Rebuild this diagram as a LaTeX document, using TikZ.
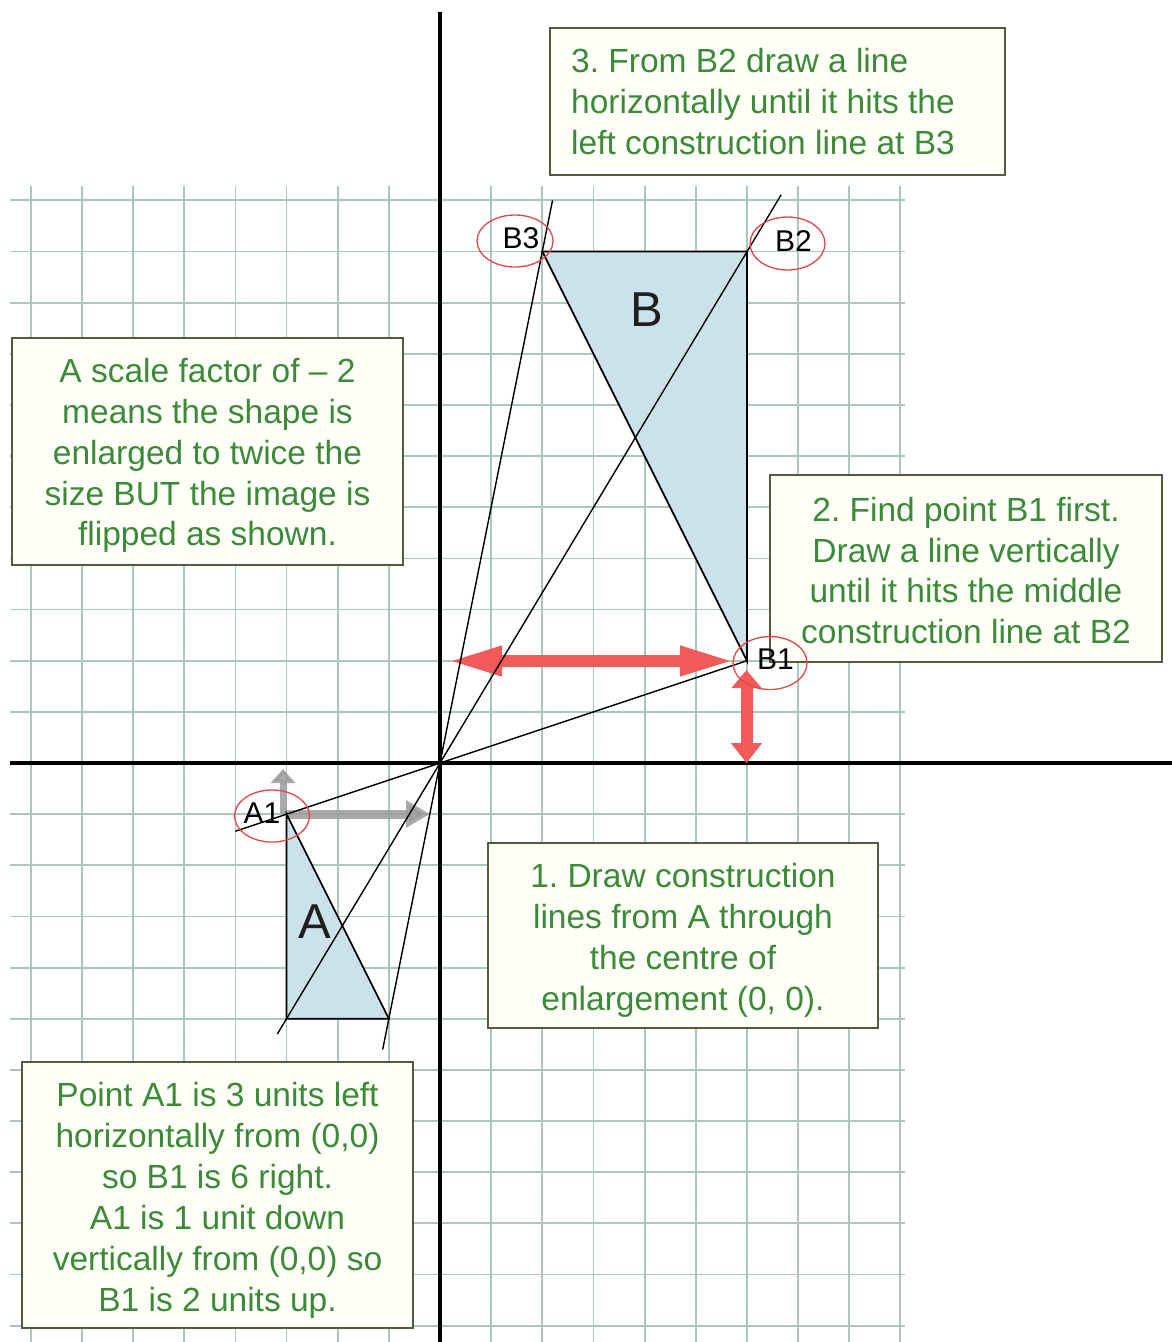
\documentclass[tikz,border=0pt]{standalone}
\usepackage{fontspec}
\setmainfont{Liberation Sans}
\usetikzlibrary{arrows.meta,shapes.geometric}
\definecolor{gridc}{HTML}{A9C6C0}
\definecolor{txtg}{HTML}{3A8A3A}
\definecolor{boxb}{HTML}{505C3C}
\definecolor{boxf}{HTML}{FFFFF8}
\definecolor{trif}{HTML}{CBE2EA}
\definecolor{redarr}{HTML}{F05A5A}
\definecolor{redell}{HTML}{E04848}
\definecolor{greyarr}{HTML}{9C9C9C}
\frenchspacing
\begin{document}
\begin{tikzpicture}[x=1pt,y=-1pt,
  gridline/.style={draw=gridc, line width=1.8pt},
  axisline/.style={draw=black, line width=4pt},
  conline/.style={draw=black, line width=1.4pt},
  triedge/.style={draw=black, line width=1.7pt},
  notebox/.style={draw=boxb, line width=1.6pt, fill=boxf, inner sep=0pt},
  notetext/.style={text=txtg, font=\fontsize{33.5}{40.9}\selectfont\frenchspacing,
    inner sep=0pt, align=center},
  ptlabel/.style={font=\fontsize{30}{30}\selectfont, text=black, inner sep=0pt},
  ptring/.style={ellipse, draw=redell, line width=1.3pt, inner sep=0pt},
  bigletter/.style={font=\fontsize{49}{49}\selectfont, text=black!88, inner sep=0pt},
  redarrow/.style={draw=redarr, fill=redarr, line width=12pt,
    {Triangle[length=55pt,width=27pt]}-{Triangle[length=55pt,width=27pt]}},
  redvarrow/.style={draw=redarr, fill=redarr, line width=12pt,
    {Triangle[length=18pt,width=29pt]}-{Triangle[length=20pt,width=30pt]}},
  greyarrow/.style={draw=greyarr, fill=greyarr, line width=9pt, opacity=0.85,
    -{Triangle[length=24pt,width=26pt]}},
  greyvarrow/.style={draw=greyarr, fill=greyarr, line width=7pt, opacity=0.85,
    -{Triangle[length=14pt,width=24pt]}}
]
\useasboundingbox (0,0) rectangle (1172,1342);
\fill[white] (0,0) rectangle (1172,1342);

% grid
\foreach \k in {-8,...,9} \draw[gridline] ({440+51.15*\k},186) -- ({440+51.15*\k},1342);
\foreach \m in {-11,...,11} \draw[gridline] (10,{763+51.15*\m}) -- (905,{763+51.15*\m});

% points
\coordinate (O) at (440,763);
\coordinate (A1) at (286.55,814.15);
\coordinate (A2) at (286.55,1018.75);
\coordinate (A3) at (388.85,1018.75);
\coordinate (B1) at (746.9,660.7);
\coordinate (B2) at (746.9,251.5);
\coordinate (B3) at (542.3,251.5);
\coordinate (L1s) at (235.4,831.2);
\coordinate (L2s) at (277.3,1034.1);
\coordinate (L2e) at (781.2,194.7);
\coordinate (L3s) at (382.7,1049.4);
\coordinate (L3e) at (552.5,200.4);

% triangle fills
\fill[trif] (A1) -- (A2) -- (A3) -- cycle;
\fill[trif] (B1) -- (B2) -- (B3) -- cycle;

% axes
\draw[axisline] (440,12) -- (440,1342);
\draw[axisline] (10,763) -- (1172,763);

% arrows
\coordinate (rh1) at (447,661);
\coordinate (rh2) at (735,661);
\coordinate (rv1) at (746.5,670);
\coordinate (rv2) at (746.5,763);
\draw[redarrow] (rh1) -- (rh2);
\draw[redvarrow] (rv1) -- (rv2);
\coordinate (gh1) at (287,814);
\coordinate (gh2) at (430,814);
\coordinate (gv1) at (283,814);
\coordinate (gv2) at (283,769);
\draw[greyarrow] (gh1) -- (gh2);
\draw[greyvarrow] (gv1) -- (gv2);

% construction lines
\draw[conline] (L1s) -- (B1);
\draw[conline] (L2s) -- (L2e);
\draw[conline] (L3s) -- (L3e);

% triangle edges
\draw[triedge] (A1) -- (A2) -- (A3) -- cycle;
\draw[triedge] (B1) -- (B2) -- (B3) -- cycle;

\node[bigletter] (bigA) at (315,922) {A};
\node[bigletter] (bigB) at (647,310) {B};

% text boxes
\node[notebox, minimum width=455pt, minimum height=147pt] (box3) at (777.5,101.5) {};
\node[notetext, anchor=west, align=left] (step3) at (571,101.5)
  {3. From B2 draw a line\\horizontally until it hits the\\left construction line at B3};
\node[notebox, minimum width=391pt, minimum height=227pt] (box2) at (207.5,451.5) {};
\node[notetext] (scale) at (207.5,455.5)
  {A scale factor of – 2\\means the shape is\\enlarged to twice the\\size BUT the image is\\flipped as shown.};
\node[notebox, minimum width=392pt, minimum height=187pt] (boxs2) at (966,568.5) {};
\node[notetext] (step2) at (966,570.5)
  {2. Find point B1 first.\\Draw a line vertically\\until it hits the middle\\construction line at B2};
\node[notebox, minimum width=390pt, minimum height=185pt] (boxs1) at (683,935.5) {};
\node[notetext] (step1) at (683,940.5)
  {1. Draw construction\\lines from A through\\the centre of\\enlargement (0, 0).};
\node[notebox, minimum width=391pt, minimum height=266pt] (boxp) at (217.5,1195) {};
\node[notetext] (pointA1) at (217.5,1200.5)
  {Point A1 is 3 units left\\horizontally from (0,0)\\so B1 is 6 right.\\A1 is 1 unit down\\vertically from (0,0) so\\B1 is 2 units up.};

% rings and point labels (on top of boxes)
\node[ptring, minimum width=75pt, minimum height=52pt] (rA1) at (272,816) {};
\node[ptring, minimum width=74pt, minimum height=53pt] (rB1) at (770,663) {};
\node[ptring, minimum width=75pt, minimum height=53pt] (rB2) at (787.5,243.5) {};
\node[ptring, minimum width=76pt, minimum height=52pt] (rB3) at (515,241) {};
\node[ptlabel] (lA1) at (262,813) {A1};
\node[ptlabel] (lB1) at (775.5,659) {B1};
\node[ptlabel] (lB2) at (793.5,241) {B2};
\node[ptlabel] (lB3) at (521,238) {B3};
\end{tikzpicture}
\end{document}
